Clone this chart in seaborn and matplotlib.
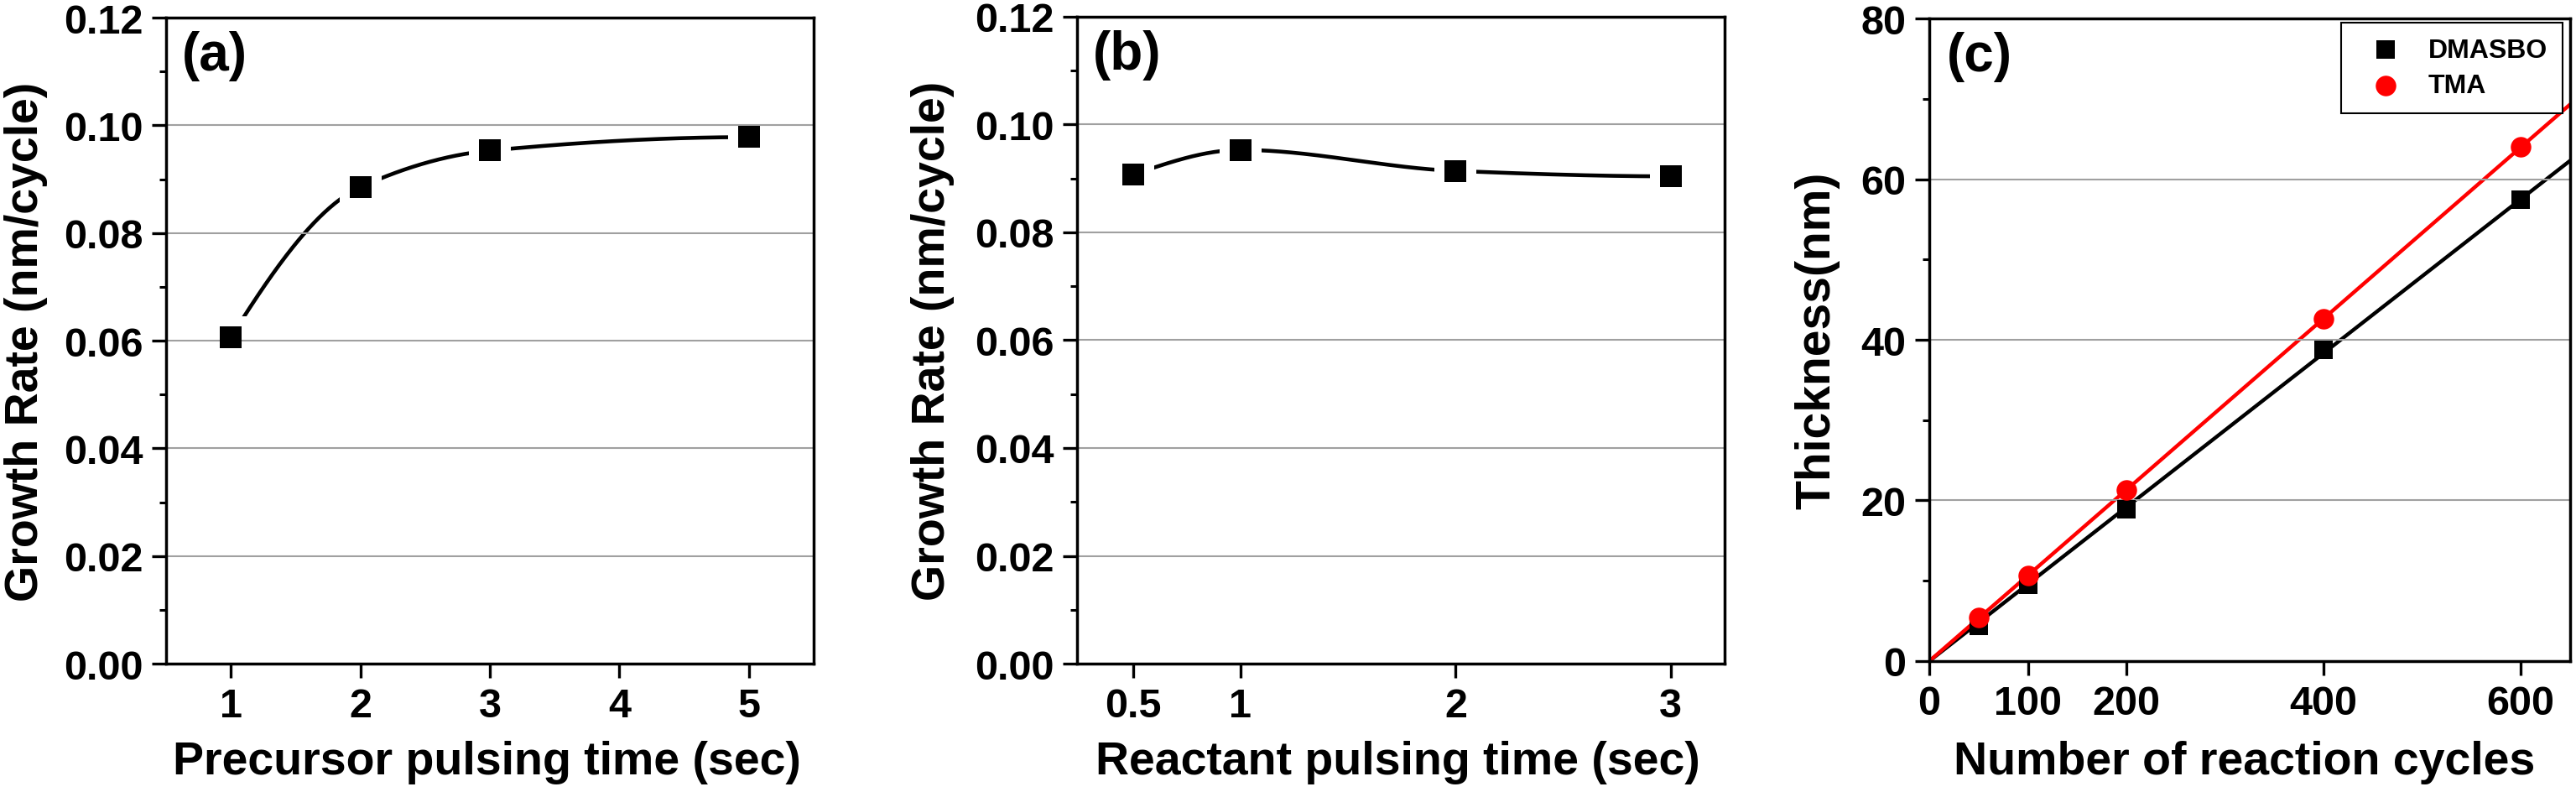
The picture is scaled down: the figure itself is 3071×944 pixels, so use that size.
import numpy as np
import pandas as pd
import matplotlib
matplotlib.use('Agg')
import matplotlib.pyplot as plt
import seaborn as sns
from matplotlib.ticker import MultipleLocator, FormatStrFormatter

# (a) growth rate vs precursor pulsing time
precursor_time = [1, 2, 3, 5]
precursor_rate = [0.0606, 0.0885, 0.0953, 0.0978]
# (b) growth rate vs reactant pulsing time
reactant_time = [0.5, 1, 2, 3]
reactant_rate = [0.0907, 0.0953, 0.0914, 0.0904]
# (c) thickness vs number of cycles
cycles = [50, 100, 200, 400, 600]
dmasbo_thick = [4.4, 9.5, 18.9, 38.7, 57.4]
tma_thick = [5.4, 10.7, 21.3, 42.6, 64.0]

sns.set_style("ticks")
plt.rcParams['font.family'] = ['Liberation Sans', 'DejaVu Sans']
plt.rcParams['font.weight'] = 'bold'
plt.rcParams['axes.labelweight'] = 'bold'
plt.rcParams['text.color'] = 'black'
plt.rcParams['axes.labelcolor'] = 'black'
plt.rcParams['xtick.color'] = 'black'
plt.rcParams['ytick.color'] = 'black'


def pchip(x, y, n=300):
    # monotone cubic curve through the points (like Origin's smooth connect)
    x = np.asarray(x, float)
    y = np.asarray(y, float)
    h = np.diff(x)
    d = np.diff(y) / h
    m = np.zeros_like(y)
    for k in range(1, len(x) - 1):
        if d[k - 1] * d[k] > 0:
            w1 = 2 * h[k] + h[k - 1]
            w2 = h[k] + 2 * h[k - 1]
            m[k] = (w1 + w2) / (w1 / d[k - 1] + w2 / d[k])
    for end, (h0, h1, d0, d1) in [(0, (h[0], h[1], d[0], d[1])), (-1, (h[-1], h[-2], d[-1], d[-2]))]:
        me = ((2 * h0 + h1) * d0 - h0 * d1) / (h0 + h1)
        if np.sign(me) != np.sign(d0):
            me = 0
        elif np.sign(d0) != np.sign(d1) and abs(me) > 3 * abs(d0):
            me = 3 * d0
        m[end] = me
    xs = np.linspace(x[0], x[-1], n)
    idx = np.clip(np.searchsorted(x, xs) - 1, 0, len(x) - 2)
    t = (xs - x[idx]) / h[idx]
    h00 = 2 * t**3 - 3 * t**2 + 1
    h10 = t**3 - 2 * t**2 + t
    h01 = -2 * t**3 + 3 * t**2
    h11 = t**3 - t**2
    ys = h00 * y[idx] + h10 * h[idx] * m[idx] + h01 * y[idx + 1] + h11 * h[idx] * m[idx + 1]
    return xs, ys


def style_axes(ax):
    for sp in ax.spines.values():
        sp.set_visible(True)
        sp.set_linewidth(2.5)
        sp.set_color('black')
        sp.set_zorder(5)
    ax.tick_params(axis='both', which='major', direction='out', length=12, width=2.4,
                   labelsize=35, colors='black', pad=8)
    ax.tick_params(axis='both', which='minor', direction='out', length=6, width=2.2)
    ax.set_axisbelow(False)
    ax.yaxis.grid(True, color='#a0a0a0', lw=1.5)
    ax.xaxis.grid(False)


def rate_panel(ax, x, y, xlim, xticks, xticklabels, xlabel, tag, ylab_x):
    xs, ys = pchip(x, y)
    curve = pd.DataFrame({'t': xs, 'r': ys})
    sns.lineplot(data=curve, x='t', y='r', color='black', lw=3.3, sort=False,
                 estimator=None, ax=ax, zorder=1)
    sns.scatterplot(x=x, y=y, marker='s', s=1250, color='white', linewidth=0, ax=ax, zorder=2)
    sns.scatterplot(x=x, y=y, marker='s', s=340, color='black', linewidth=0, ax=ax, zorder=3)
    ax.set_xlim(*xlim)
    ax.set_ylim(0, 0.12)
    ax.set_xticks(xticks)
    ax.set_xticklabels(xticklabels)
    ax.set_yticks(np.arange(0, 0.121, 0.02))
    ax.yaxis.set_major_formatter(FormatStrFormatter('%.2f'))
    ax.yaxis.set_minor_locator(MultipleLocator(0.01))
    style_axes(ax)
    ax.set_xlabel(xlabel, fontsize=40, fontweight='bold')
    ax.set_ylabel('Growth Rate (nm/cycle)', fontsize=40, fontweight='bold')
    ax.xaxis.set_label_coords(0.495, -0.118)
    ax.yaxis.set_label_coords(ylab_x, 0.5)
    ax.text(0.025, 0.98, tag, transform=ax.transAxes, ha='left', va='top',
            fontsize=46, fontweight='bold')


fig = plt.figure(figsize=(30.71, 9.45), dpi=100)
ax_a = fig.add_axes([0.06447, 0.16190, 0.25138, 0.81481])
ax_b = fig.add_axes([0.41810, 0.16190, 0.25138, 0.81590])
ax_c = fig.add_axes([0.74894, 0.16508, 0.24878, 0.81058])

rate_panel(ax_a, precursor_time, precursor_rate, (0.5, 5.5), [1, 2, 3, 4, 5],
           ['1', '2', '3', '4', '5'], 'Precursor pulsing time (sec)', '(a)', -0.183)
rate_panel(ax_b, reactant_time, reactant_rate, (0.24, 3.25), [0.5, 1, 2, 3],
           ['0.5', '1', '2', '3'], 'Reactant pulsing time (sec)', '(b)', -0.189)

# (c) linear fits through the origin
ax_c.set_xlim(0, 650)
ax_c.set_ylim(0, 80)
cx = np.array(cycles, float)
slope_d = np.dot(cx, dmasbo_thick) / np.dot(cx, cx)
slope_t = np.dot(cx, tma_thick) / np.dot(cx, cx)
fit_x = np.array(ax_c.get_xlim())
sns.lineplot(x=fit_x, y=slope_d * fit_x, color='black', lw=3.2, ax=ax_c, zorder=1)
sns.lineplot(x=fit_x, y=slope_t * fit_x, color='#ff0000', lw=3.2, ax=ax_c, zorder=1)
sns.scatterplot(x=cycles, y=dmasbo_thick, marker='s', s=270, color='black', linewidth=0,
                ax=ax_c, zorder=3, label='DMASBO')
sns.scatterplot(x=cycles, y=tma_thick, marker='o', s=310, color='#ff0000', linewidth=0,
                ax=ax_c, zorder=3, label='TMA')
ax_c.set_xlim(0, 650)
ax_c.set_ylim(0, 80)
ax_c.set_xticks([0, 100, 200, 400, 600])
ax_c.set_yticks([0, 20, 40, 60, 80])
ax_c.yaxis.set_minor_locator(MultipleLocator(10))
style_axes(ax_c)
ax_c.set_xlabel('Number of reaction cycles', fontsize=40, fontweight='bold')
ax_c.set_ylabel('Thickness(nm)', fontsize=41, fontweight='bold')
ax_c.xaxis.set_label_coords(0.492, -0.123)
ax_c.yaxis.set_label_coords(-0.139, 0.5)
ax_c.text(0.027, 0.98, '(c)', transform=ax_c.transAxes, ha='left', va='top',
          fontsize=46, fontweight='bold')
leg = ax_c.legend(loc='upper right', bbox_to_anchor=(0.988, 0.9935), borderaxespad=0,
                  frameon=True, fancybox=False, framealpha=1, edgecolor='black',
                  prop={'weight': 'bold', 'size': 23}, handlelength=2.2,
                  handletextpad=0.5, borderpad=0.55, labelspacing=0.4)
leg.get_frame().set_linewidth(1.5)

fig.savefig('out.png', dpi=100)
